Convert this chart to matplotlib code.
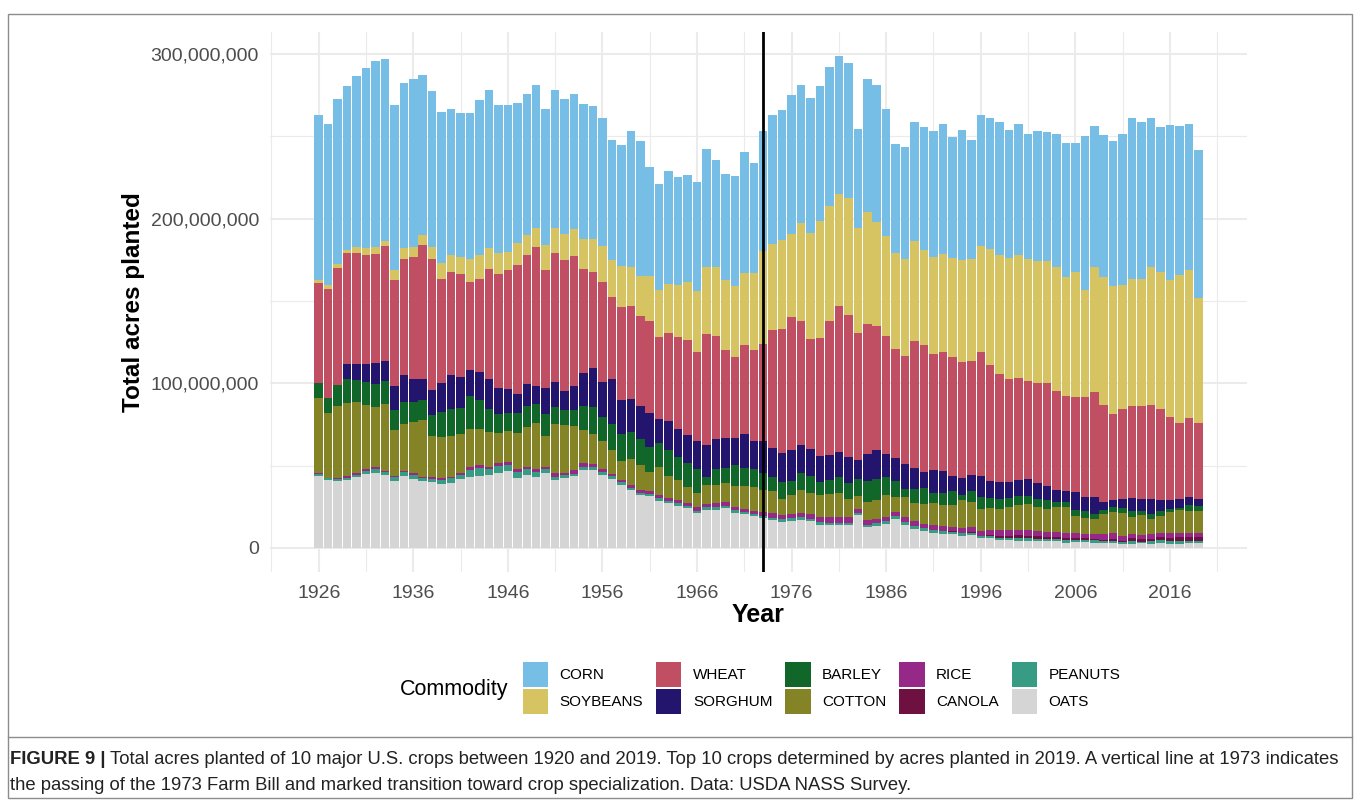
import numpy as np
import matplotlib.pyplot as plt
from matplotlib.patches import Patch, Rectangle
from matplotlib.lines import Line2D
from matplotlib.ticker import FuncFormatter, MultipleLocator, FixedLocator

plt.rcParams['font.family'] = ['Liberation Sans', 'DejaVu Sans']

# acres planted, millions, 1926-2019
years = np.arange(1926, 2020)

corn = [
    100.0, 98.3, 100.6, 99.4, 104.1, 109.4, 113.0, 110.3, 100.6, 100.6,
    102.4, 97.1, 94.8, 91.3, 88.7, 87.2, 88.8, 94.3, 95.8, 89.3,
    89.1, 85.0, 85.8, 87.0, 82.7, 83.7, 82.1, 82.1, 82.1, 80.9,
    77.9, 73.2, 73.8, 82.7, 82.1, 66.1, 64.7, 68.5, 65.6, 65.0,
    66.2, 71.6, 65.0, 64.1, 66.8, 73.6, 67.0, 72.6, 78.2, 78.7,
    84.6, 84.3, 81.9, 81.8, 84.2, 84.2, 81.8, 60.4, 80.4, 83.5,
    76.9, 66.4, 67.8, 72.4, 74.5, 76.3, 79.3, 73.4, 79.2, 72.1,
    79.4, 79.8, 80.6, 77.5, 79.6, 75.8, 79.0, 78.6, 81.0, 81.9,
    78.6, 93.4, 86.0, 86.4, 88.4, 91.7, 97.7, 95.3, 90.7, 88.1,
    94.0, 90.3, 88.8, 90.1]
soybeans = [
    2.1, 2.3, 2.1, 2.0, 3.1, 4.0, 3.7, 3.1, 6.0, 6.6,
    5.8, 6.4, 7.2, 9.9, 10.3, 10.1, 13.7, 14.4, 13.0, 13.0,
    11.5, 13.1, 12.2, 11.7, 15.0, 15.0, 16.1, 16.1, 18.5, 19.8,
    21.7, 22.0, 24.7, 23.5, 24.3, 27.7, 28.7, 29.9, 32.0, 35.4,
    37.5, 40.8, 42.2, 42.5, 43.1, 43.9, 47.0, 56.7, 52.5, 54.6,
    50.4, 59.0, 64.5, 71.2, 69.9, 68.0, 71.2, 63.7, 68.2, 63.3,
    60.6, 58.2, 58.8, 61.0, 57.7, 59.2, 59.2, 60.0, 61.8, 62.3,
    64.3, 70.0, 72.1, 73.8, 74.4, 73.9, 73.6, 73.6, 75.0, 72.1,
    75.6, 65.1, 76.1, 77.7, 77.6, 75.3, 77.1, 76.9, 83.7, 82.9,
    83.5, 90.3, 89.7, 75.8]
wheat = [
    60.8, 65.8, 71.1, 67.5, 67.7, 66.4, 66.5, 69.7, 64.1, 70.2,
    74.3, 81.1, 79.3, 62.9, 62.3, 63.0, 53.5, 56.2, 66.5, 69.4,
    71.9, 78.5, 78.5, 84.1, 71.5, 78.6, 79.1, 78.7, 62.9, 58.5,
    60.6, 49.9, 56.3, 56.7, 54.6, 55.6, 49.4, 53.6, 55.6, 57.5,
    53.8, 67.4, 62.5, 53.8, 49.1, 54.0, 55.0, 58.9, 71.4, 75.0,
    81.0, 75.8, 66.4, 71.7, 81.0, 88.4, 86.3, 76.9, 78.8, 75.4,
    71.8, 66.2, 65.8, 76.9, 77.3, 70.1, 72.4, 72.4, 70.5, 69.3,
    75.3, 70.5, 66.0, 62.7, 62.5, 59.8, 61.2, 62.5, 60.2, 57.6,
    57.6, 60.9, 63.5, 58.8, 52.3, 54.8, 55.9, 56.7, 56.9, 55.2,
    50.1, 46.2, 48.1, 45.8]
sorghum = [
    0.0, 0.0, 0.0, 8.9, 9.5, 10.9, 12.5, 12.6, 14.6, 16.2,
    13.5, 12.9, 15.2, 17.6, 20.9, 18.6, 15.6, 17.4, 18.4, 15.6,
    14.4, 11.5, 13.2, 11.0, 16.0, 15.0, 11.7, 15.1, 20.0, 23.7,
    21.6, 27.4, 20.6, 19.6, 20.0, 20.7, 14.9, 17.5, 16.9, 17.2,
    17.0, 19.2, 18.0, 18.1, 16.9, 20.6, 17.2, 19.2, 17.5, 17.9,
    18.3, 16.5, 16.3, 15.5, 15.5, 15.5, 16.1, 11.7, 16.5, 17.6,
    14.2, 13.8, 14.8, 12.4, 9.5, 13.8, 13.2, 9.1, 9.9, 9.5,
    13.0, 10.3, 9.9, 9.5, 9.5, 9.8, 9.7, 9.0, 7.3, 6.6,
    11.1, 8.4, 10.3, 4.7, 4.2, 5.0, 7.8, 6.8, 9.3, 7.0,
    5.6, 5.4, 5.1, 4.7]
barley = [
    8.7, 9.5, 12.8, 14.7, 13.5, 13.8, 14.4, 14.0, 11.9, 13.8,
    12.6, 12.2, 12.6, 15.6, 16.0, 15.8, 20.0, 17.6, 14.0, 11.4,
    11.1, 12.2, 12.9, 11.3, 13.2, 10.7, 9.1, 9.7, 14.7, 16.5,
    14.4, 16.1, 16.5, 16.7, 15.5, 15.4, 14.6, 15.7, 14.1, 14.4,
    14.6, 5.2, 9.9, 8.9, 12.6, 11.0, 10.7, 10.7, 8.9, 9.9,
    8.9, 10.7, 10.3, 7.8, 8.2, 9.5, 9.3, 10.4, 13.0, 12.7,
    10.9, 9.9, 5.2, 8.9, 9.7, 6.2, 7.8, 8.4, 3.5, 6.8,
    7.2, 6.4, 6.2, 5.6, 5.7, 5.4, 4.8, 5.2, 3.1, 3.3,
    3.5, 4.4, 3.1, 2.5, 3.1, 3.3, 4.1, 2.9, 3.1, 3.1,
    2.1, 1.0, 3.1, 2.9]
cotton = [
    46.0, 39.1, 43.9, 44.2, 43.4, 39.0, 36.4, 40.2, 28.0, 28.1,
    31.0, 34.4, 25.1, 24.9, 24.9, 23.5, 23.5, 21.9, 20.8, 18.6,
    19.1, 21.8, 23.9, 28.3, 18.8, 29.8, 29.4, 26.4, 20.0, 18.0,
    17.2, 14.5, 11.8, 15.9, 15.4, 11.6, 16.9, 13.4, 12.3, 9.7,
    8.7, 11.3, 10.9, 11.8, 12.8, 13.8, 14.4, 13.5, 13.4, 9.7,
    11.4, 14.1, 13.0, 13.8, 14.4, 14.4, 11.3, 7.8, 10.9, 11.4,
    13.4, 9.3, 12.3, 11.1, 12.0, 13.6, 12.4, 13.2, 16.5, 15.0,
    13.4, 13.4, 13.0, 14.0, 15.1, 15.7, 14.4, 14.0, 14.8, 15.4,
    10.7, 9.4, 8.8, 12.4, 12.3, 14.0, 9.9, 12.0, 8.8, 10.1,
    12.3, 14.2, 13.4, 13.4]
rice = [
    0.3, 0.3, 0.4, 1.0, 1.0, 0.9, 0.9, 0.8, 0.8, 0.8,
    0.9, 1.1, 1.1, 1.0, 1.0, 1.2, 1.4, 1.5, 1.3, 1.5,
    1.5, 1.6, 1.7, 1.9, 1.6, 2.0, 1.2, 2.2, 2.6, 1.8,
    1.6, 1.3, 1.4, 1.6, 1.6, 1.6, 1.8, 1.8, 1.8, 1.8,
    2.0, 2.0, 2.4, 2.1, 1.8, 1.8, 1.8, 2.2, 2.6, 2.8,
    2.5, 2.3, 3.0, 2.9, 3.4, 3.8, 3.3, 2.2, 2.8, 2.5,
    2.4, 2.4, 2.9, 2.7, 2.9, 2.9, 3.2, 2.9, 3.4, 3.1,
    2.8, 3.1, 3.3, 3.5, 3.1, 3.3, 3.2, 3.0, 3.3, 3.4,
    2.8, 2.8, 3.0, 3.1, 3.6, 2.7, 2.7, 2.5, 3.0, 2.6,
    3.2, 2.5, 2.9, 2.5]
canola = [
    0.0, 0.0, 0.0, 0.0, 0.0, 0.0, 0.0, 0.0, 0.0, 0.0,
    0.0, 0.0, 0.0, 0.0, 0.0, 0.0, 0.0, 0.0, 0.0, 0.0,
    0.0, 0.0, 0.0, 0.0, 0.0, 0.0, 0.0, 0.0, 0.0, 0.0,
    0.0, 0.0, 0.0, 0.0, 0.0, 0.0, 0.0, 0.0, 0.0, 0.0,
    0.0, 0.0, 0.0, 0.0, 0.0, 0.0, 0.0, 0.0, 0.0, 0.0,
    0.0, 0.0, 0.0, 0.0, 0.0, 0.0, 0.0, 0.0, 0.0, 0.0,
    0.0, 0.0, 0.0, 0.0, 0.0, 0.1, 0.2, 0.2, 0.2, 0.4,
    0.3, 0.4, 1.1, 1.1, 1.6, 1.5, 1.5, 1.1, 0.9, 1.2,
    1.1, 1.2, 1.0, 0.8, 1.5, 1.1, 1.8, 1.4, 1.7, 1.8,
    1.7, 2.1, 2.0, 2.1]
peanuts = [
    1.1, 1.1, 1.2, 1.4, 1.4, 2.2, 2.4, 1.9, 2.4, 2.5,
    2.5, 1.5, 2.2, 2.6, 3.0, 2.6, 4.3, 5.0, 3.8, 4.2,
    3.7, 3.9, 3.4, 2.6, 2.5, 2.0, 1.4, 1.8, 1.7, 1.7,
    1.6, 1.6, 1.6, 1.6, 1.5, 1.5, 1.5, 1.5, 1.5, 1.5,
    1.5, 1.5, 1.5, 1.5, 1.5, 1.5, 1.5, 1.5, 1.5, 1.5,
    1.5, 1.5, 1.5, 1.5, 1.5, 1.5, 1.3, 1.4, 1.5, 1.5,
    1.6, 1.6, 1.7, 1.7, 1.8, 2.0, 1.7, 1.7, 1.6, 1.5,
    1.4, 1.4, 1.5, 1.5, 1.5, 1.5, 1.4, 1.3, 1.4, 1.7,
    1.2, 1.2, 1.5, 1.1, 1.3, 1.1, 1.6, 1.1, 1.4, 1.6,
    1.7, 1.9, 1.4, 1.4]
oats = [
    43.9, 41.3, 40.7, 41.3, 42.9, 44.7, 45.7, 44.3, 40.7, 43.7,
    41.9, 40.7, 39.8, 38.7, 39.3, 41.9, 43.3, 43.7, 44.3, 45.7,
    46.8, 42.3, 44.3, 43.3, 45.3, 41.3, 42.7, 43.4, 47.2, 47.6,
    44.6, 41.8, 38.2, 34.9, 32.0, 31.3, 28.7, 27.0, 25.6, 24.1,
    21.2, 23.3, 23.3, 24.2, 21.4, 20.4, 19.4, 17.9, 16.9, 15.9,
    16.6, 17.2, 16.1, 14.2, 13.7, 13.7, 14.0, 20.1, 12.6, 13.5,
    14.6, 17.6, 14.0, 11.7, 10.1, 8.8, 8.3, 8.2, 7.2, 7.8,
    5.8, 5.8, 4.8, 4.6, 4.5, 4.4, 4.2, 4.3, 4.3, 3.0,
    3.8, 3.5, 3.2, 3.2, 2.9, 2.3, 2.6, 2.8, 2.6, 3.1,
    2.7, 2.4, 3.0, 2.9]

commodities = ['CORN', 'SOYBEANS', 'WHEAT', 'SORGHUM', 'BARLEY',
               'COTTON', 'RICE', 'CANOLA', 'PEANUTS', 'OATS']
colors = ['#76BEE6', '#D6C362', '#C14F64', '#23146E', '#11662A',
          '#848427', '#962887', '#6E1141', '#389B84', '#D5D5D5']
series = [corn, soybeans, wheat, sorghum, barley,
          cotton, rice, canola, peanuts, oats]

W, H = 1360, 800
fig = plt.figure(figsize=(W / 100, H / 100), dpi=100)
ax = fig.add_axes([270 / W, 1 - 572 / H, 977 / W, 540 / H])

# ggplot stacks the first level on top, so draw from OATS upward
bottom = np.zeros(len(years))
for name, col, vals in reversed(list(zip(commodities, colors, series))):
    v = np.array(vals) * 1e6
    ax.bar(years, v, width=0.9, bottom=bottom, color=col, linewidth=0)
    bottom += v

ax.axvline(1973, color='black', lw=2)

ax.set_xlim(1920.85, 2024.15)
ax.set_ylim(-14.6e6, 313.3e6)
ax.xaxis.set_major_locator(FixedLocator(np.arange(1926, 2017, 10)))
ax.xaxis.set_minor_locator(FixedLocator(np.arange(1921, 2022, 10)))
ax.yaxis.set_major_locator(MultipleLocator(100e6))
ax.yaxis.set_minor_locator(FixedLocator([50e6, 150e6, 250e6]))
ax.yaxis.set_major_formatter(FuncFormatter(lambda v, p: f'{int(round(v)):,}'))
ax.grid(which='major', color='#EBEBEB', lw=1.5)
ax.grid(which='minor', color='#EBEBEB', lw=0.8)
ax.set_axisbelow(True)
for s in ax.spines.values():
    s.set_visible(False)
ax.tick_params(which='both', length=0)
ax.tick_params(axis='y', labelsize=14, labelcolor='#4D4D4D', pad=8)
ax.tick_params(axis='x', labelsize=14, labelcolor='#4D4D4D', pad=9)

ax.set_xlabel('Year', fontsize=18, fontweight='bold', labelpad=1)
ax.set_ylabel('Total acres planted', fontsize=17.5, fontweight='bold', labelpad=4)

handles = [Patch(facecolor=c, edgecolor='none') for c in colors]
fig.legend(handles, commodities, ncol=5, loc='upper left',
           bbox_to_anchor=(523 / W, 1 - 662 / H), frameon=False,
           fontsize=11, handlelength=1.65, handleheight=2.15,
           handletextpad=0.75, columnspacing=0.85, labelspacing=0.1,
           borderpad=0, borderaxespad=0)
fig.text(400 / W, 1 - 690 / H, 'Commodity', fontsize=15.5, va='center', ha='left')

# frame and caption
fig.add_artist(Rectangle((8 / W, 2 / H), 1344 / W, 784 / H, transform=fig.transFigure,
                         fill=False, edgecolor='#8C8C8C', lw=1))
fig.add_artist(Line2D([8 / W, 1352 / W], [1 - 737 / H, 1 - 737 / H],
                      transform=fig.transFigure, color='#8C8C8C', lw=1))
t1 = fig.text(10 / W, 1 - 760 / H, 'FIGURE 9 |', fontsize=13.3, fontweight='bold',
              va='center', ha='left', color='#222222')
fig.canvas.draw()
bb = t1.get_window_extent(renderer=fig.canvas.get_renderer())
fig.text((bb.x1 + 4) / W, 1 - 760 / H,
         'Total acres planted of 10 major U.S. crops between 1920 and 2019. Top 10 crops '
         'determined by acres planted in 2019. A vertical line at 1973 indicates',
         fontsize=13.3, va='center', ha='left', color='#222222')
fig.text(10 / W, 1 - 785 / H,
         'the passing of the 1973 Farm Bill and marked transition toward crop '
         'specialization. Data: USDA NASS Survey.',
         fontsize=13.3, va='center', ha='left', color='#222222')

fig.savefig('out.png', dpi=100)
